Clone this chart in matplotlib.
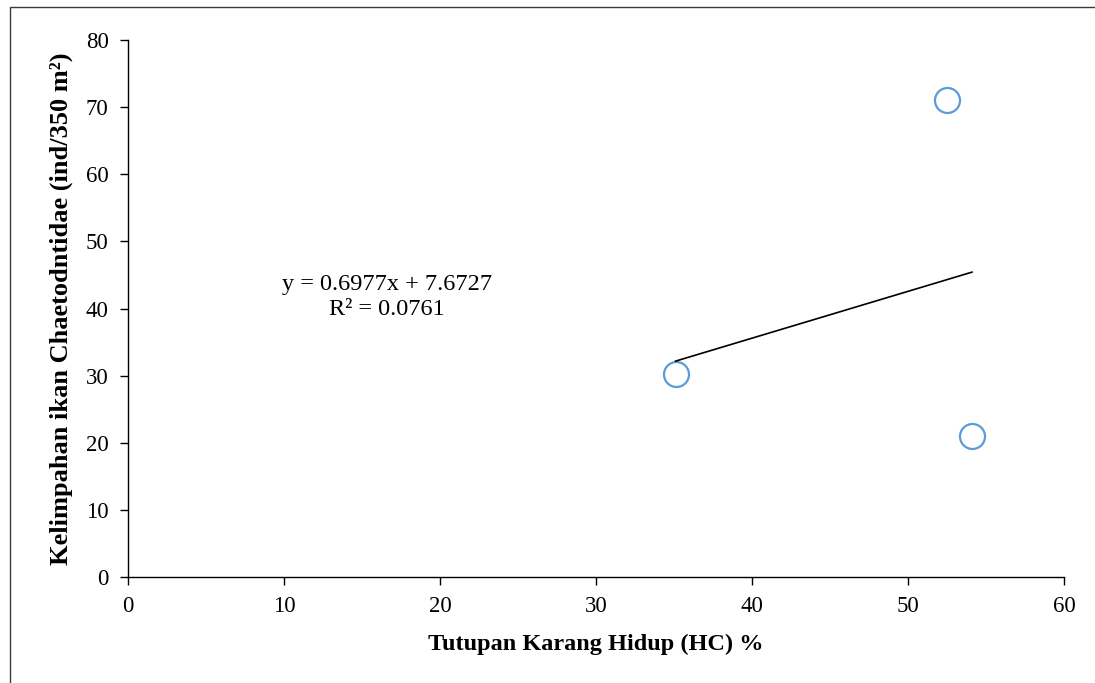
import matplotlib.pyplot as plt
from matplotlib.patches import Rectangle
import numpy as np

plt.rcParams["font.family"] = ["Liberation Serif", "DejaVu Serif"]

# data
hc_cover = [35.1, 52.5, 54.1]
abundance = [30.2, 71.0, 21.0]
slope, intercept = 0.6977, 7.6727
r2 = 0.0761
x_ticks = [0, 10, 20, 30, 40, 50, 60]
y_ticks = [0, 10, 20, 30, 40, 50, 60, 70, 80]

fig = plt.figure(figsize=(10.95, 6.83), dpi=100)
ax = fig.add_axes([0.1169, 0.1552, 0.8548, 0.7862])

# outer frame of the figure (only left/top visible in the crop)
fig.patches.append(Rectangle((10 / 1095, -0.1), 1.2, 1 - 7 / 683 + 0.1,
                             transform=fig.transFigure, fill=False,
                             edgecolor="#3a3a3a", linewidth=1.0))

ax.plot(hc_cover, abundance, linestyle="none", marker="o", markersize=18,
        markerfacecolor="none", markeredgecolor="#5b9bd5", markeredgewidth=1.6)

xs = np.array([min(hc_cover), max(hc_cover)])
ax.plot(xs, slope * xs + intercept, color="black", linewidth=1.2)

ax.text(16.6, 43.6, f"y = {slope}x + {intercept}", ha="center", va="center",
        fontsize=17.5)
ax.text(16.6, 39.9, f"R\u00b2 = {r2}", ha="center", va="center", fontsize=17.5)

ax.set_xlim(0, 60)
ax.set_ylim(0, 80)
ax.set_xticks(x_ticks)
ax.set_yticks(y_ticks)
ax.tick_params(direction="out", length=6, width=1, labelsize=16.5, pad=8)
for side in ("top", "right"):
    ax.spines[side].set_visible(False)
for side in ("left", "bottom"):
    ax.spines[side].set_linewidth(1.0)

ax.set_xlabel("Tutupan Karang Hidup (HC) %", fontsize=17.5, fontweight="bold",
              labelpad=12)
ax.set_ylabel("Kelimpahan ikan Chaetodntidae (ind/350 m\u00b2)",
              fontsize=19, fontweight="bold", labelpad=9)

fig.savefig("out.png", dpi=100)
